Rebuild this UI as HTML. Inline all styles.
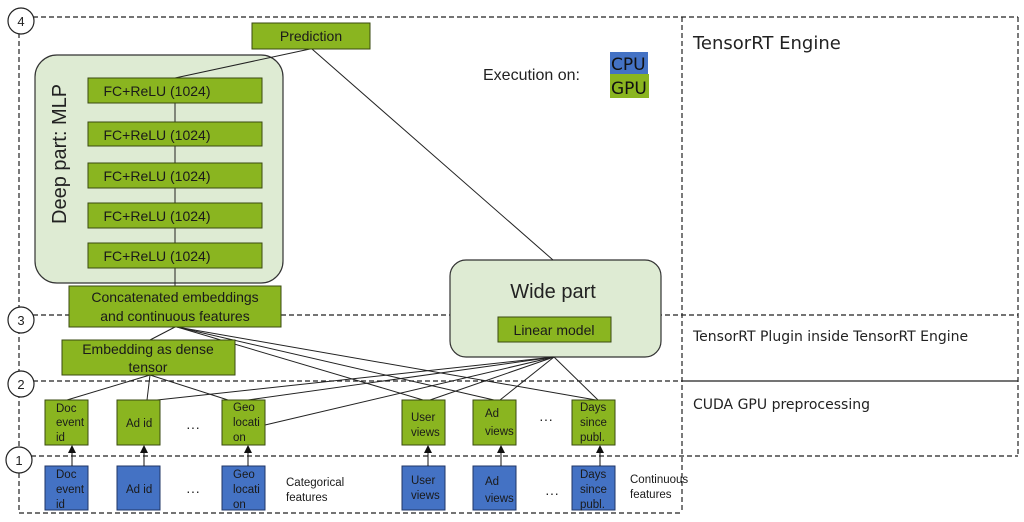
<!DOCTYPE html>
<html><head><meta charset="utf-8"><style>
html,body{margin:0;padding:0;background:#fff}
svg{display:block}
text{font-family:"Liberation Sans",sans-serif}
.dv{font-family:"DejaVu Sans",sans-serif}
</style></head><body>
<svg width="1024" height="522" viewBox="0 0 1024 522" xmlns="http://www.w3.org/2000/svg">
<g fill="none" stroke="#222" stroke-width="1.2" stroke-dasharray="5,3">
<line x1="33" y1="17" x2="1018" y2="17"/>
<line x1="19" y1="33" x2="19" y2="513"/>
<line x1="19" y1="513" x2="682" y2="513"/>
<line x1="682" y1="17" x2="682" y2="513"/>
<line x1="1018" y1="17" x2="1018" y2="456"/>
<line x1="33" y1="315" x2="1018" y2="315"/>
<line x1="33" y1="381" x2="682" y2="381"/>
<line x1="31" y1="456" x2="1018" y2="456"/>
</g>
<line x1="682" y1="381" x2="1018" y2="381" stroke="#222" stroke-width="1.2"/>
<g fill="#fff" stroke="#222" stroke-width="1.2">
<circle cx="21" cy="21" r="13"/><circle cx="21" cy="320" r="13"/><circle cx="21" cy="384" r="13"/><circle cx="19" cy="460" r="13"/>
</g>
<g font-size="13" text-anchor="middle" fill="#222">
<text x="21" y="26">4</text><text x="21" y="325">3</text><text x="21" y="389">2</text><text x="19" y="465">1</text>
</g>
<text class="dv" x="693" y="49" font-size="18" fill="#222">TensorRT Engine</text>
<text class="dv" x="693" y="341" font-size="14" fill="#222">TensorRT Plugin inside TensorRT Engine</text>
<text class="dv" x="693" y="409" font-size="14" fill="#222">CUDA GPU preprocessing</text>
<text x="483" y="80" font-size="16" fill="#222">Execution on:</text>
<rect x="610" y="52" width="38" height="22" fill="#4472c4"/>
<rect x="610" y="74" width="39" height="24" fill="#8ab520"/>
<text class="dv" x="611" y="70" font-size="17" fill="#111">CPU</text>
<text class="dv" x="611" y="94" font-size="17" fill="#111">GPU</text>
<rect x="35" y="55" width="248" height="228" rx="22" fill="#deebd3" stroke="#333" stroke-width="1.2"/>
<text x="0" y="0" font-size="20" fill="#222" transform="translate(66,224) rotate(-90)">Deep part: MLP</text>
<rect x="450" y="260" width="211" height="97" rx="16" fill="#deebd3" stroke="#333" stroke-width="1.2"/>
<text x="553" y="298" font-size="20" text-anchor="middle" fill="#222">Wide part</text>
<g stroke="#222" stroke-width="1">
<line x1="310" y1="49" x2="175" y2="78"/>
<line x1="312" y1="49" x2="553" y2="260"/>
<line x1="175" y1="103" x2="175" y2="286"/>
<line x1="175" y1="327" x2="150" y2="340"/>
<line x1="177" y1="327" x2="423" y2="400"/>
<line x1="177" y1="327" x2="494" y2="400"/>
<line x1="177" y1="327" x2="596" y2="400"/>
<line x1="150" y1="375" x2="67" y2="400"/>
<line x1="150" y1="375" x2="147" y2="400"/>
<line x1="150" y1="375" x2="228" y2="400"/>
<line x1="554" y1="357" x2="157" y2="400"/>
<line x1="554" y1="357" x2="248" y2="400"/>
<line x1="554" y1="357" x2="265" y2="425"/>
<line x1="554" y1="357" x2="430" y2="400"/>
<line x1="554" y1="357" x2="500" y2="400"/>
<line x1="554" y1="357" x2="598" y2="400"/>
</g>
<g fill="#8ab520" stroke="#3a4a10" stroke-width="1">
<rect x="252" y="23" width="118" height="26"/>
<rect x="88" y="78" width="174" height="25"/>
<rect x="88" y="122" width="174" height="24"/>
<rect x="88" y="163" width="174" height="25"/>
<rect x="88" y="203" width="174" height="25"/>
<rect x="88" y="243" width="174" height="25"/>
<rect x="69" y="286" width="212" height="41"/>
<rect x="498" y="317" width="113" height="25"/>
<rect x="62" y="340" width="173" height="35"/>
<rect x="45" y="400" width="43" height="45"/>
<rect x="117" y="400" width="43" height="45"/>
<rect x="222" y="400" width="43" height="45"/>
<rect x="402" y="400" width="43" height="45"/>
<rect x="473" y="400" width="43" height="45"/>
<rect x="572" y="400" width="43" height="45"/>
</g>
<g fill="#4472c4" stroke="#1f3566" stroke-width="1">
<rect x="45" y="466" width="43" height="44"/>
<rect x="117" y="466" width="43" height="44"/>
<rect x="222" y="466" width="43" height="44"/>
<rect x="402" y="466" width="43" height="44"/>
<rect x="473" y="466" width="43" height="44"/>
<rect x="572" y="466" width="43" height="44"/>
</g>
<g stroke="#111" stroke-width="1">
<line x1="72" y1="466" x2="72" y2="450"/><line x1="144" y1="466" x2="144" y2="450"/><line x1="248" y1="466" x2="248" y2="450"/>
<line x1="428" y1="466" x2="428" y2="450"/><line x1="501" y1="466" x2="501" y2="450"/><line x1="600" y1="466" x2="600" y2="450"/>
</g>
<g fill="#111">
<polygon points="72,445 68,453 76,453"/><polygon points="144,445 140,453 148,453"/><polygon points="248,445 244,453 252,453"/>
<polygon points="428,445 424,453 432,453"/><polygon points="501,445 497,453 505,453"/><polygon points="600,445 596,453 604,453"/>
</g>
<g font-size="14" fill="#1a1a1a" text-anchor="middle">
<text x="311" y="41">Prediction</text>
<text x="157" y="96">FC+ReLU (1024)</text>
<text x="157" y="140">FC+ReLU (1024)</text>
<text x="157" y="181">FC+ReLU (1024)</text>
<text x="157" y="221">FC+ReLU (1024)</text>
<text x="157" y="261">FC+ReLU (1024)</text>
<text x="175" y="302">Concatenated embeddings</text>
<text x="175" y="321">and continuous features</text>
<text x="554" y="335">Linear model</text>
<text x="148" y="354">Embedding as dense</text>
<text x="148" y="372">tensor</text>
</g>
<g font-size="11.5" fill="#1a1a1a">
<text x="56" y="412">Doc</text><text x="56" y="426">event</text><text x="56" y="441">id</text>
<text x="126" y="427">Ad id</text>
<text x="233" y="411">Geo</text><text x="233" y="426">locati</text><text x="233" y="441">on</text>
<text x="411" y="421">User</text><text x="411" y="436">views</text>
<text x="485" y="417">Ad</text><text x="485" y="435">views</text>
<text x="580" y="411">Days</text><text x="580" y="426">since</text><text x="580" y="441">publ.</text>
<text x="56" y="478">Doc</text><text x="56" y="493">event</text><text x="56" y="508">id</text>
<text x="126" y="493">Ad id</text>
<text x="233" y="478">Geo</text><text x="233" y="493">locati</text><text x="233" y="508">on</text>
<text x="411" y="484">User</text><text x="411" y="499">views</text>
<text x="485" y="485">Ad</text><text x="485" y="502">views</text>
<text x="580" y="478">Days</text><text x="580" y="493">since</text><text x="580" y="508">publ.</text>
<text x="286" y="486">Categorical</text><text x="286" y="501">features</text>
<text x="630" y="483">Continuous</text><text x="630" y="498">features</text>
</g>
<g font-size="14" fill="#222">
<text x="186" y="432">···</text><text x="186" y="496">···</text>
<text x="539" y="424">···</text><text x="545" y="498">···</text>
</g>
</svg>
</body></html>
